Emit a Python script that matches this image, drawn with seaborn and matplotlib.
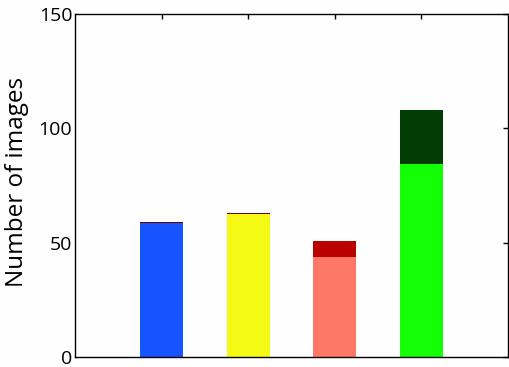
import matplotlib
matplotlib.use("Agg")
import matplotlib.pyplot as plt
import seaborn as sns
import pandas as pd

categories = ["A", "B", "C", "D"]
base_values = [58.6, 62.6, 43.7, 84.4]
top_values = [0.4, 0.4, 7.0, 23.6]
base_colors = ["#1753FF", "#F5FA14", "#FF7866", "#12FF06"]
top_colors = ["#6B0000", "#6B0000", "#BB0000", "#033D06"]
yticks = [0, 50, 100, 150]

totals = [b + t for b, t in zip(base_values, top_values)]
df = pd.DataFrame({"cat": categories, "base": base_values, "total": totals})

sns.set_style("white")
plt.rcParams["font.family"] = ["Open Sans", "DejaVu Sans"]
plt.rcParams["text.color"] = "black"
plt.rcParams["axes.labelcolor"] = "black"
plt.rcParams["ytick.color"] = "black"
plt.rcParams["xtick.color"] = "black"

fig = plt.figure(figsize=(5.09, 3.67), dpi=100, facecolor="#FDFEFD")
ax = fig.add_axes([0.1473, 0.0272, 0.8507, 0.9347])
ax.set_facecolor("#FDFEFD")

sns.barplot(data=df, x="cat", y="total", hue="cat", palette=top_colors,
            width=0.5, legend=False, ax=ax, saturation=1, linewidth=0)
sns.barplot(data=df, x="cat", y="base", hue="cat", palette=base_colors,
            width=0.5, legend=False, ax=ax, saturation=1, linewidth=0)

ax.set_xlim(-1, 4)
ax.set_ylim(0, 150)
ax.set_yticks(yticks)
ax.set_yticklabels([str(v) for v in yticks], fontsize=14)
ax.set_xticks(range(len(categories)))
ax.set_xticklabels([])
ax.set_xlabel("")
ax.set_ylabel("Number of images", fontsize=17.5)
ax.yaxis.set_label_coords(-0.107, 0.51)

ax.tick_params(axis="y", left=False, right=True, direction="in", length=3.5,
               width=1, color="black", pad=2, labelcolor="black")
ax.tick_params(axis="x", bottom=False, top=True, direction="in", length=3.5,
               width=1, color="black")
for s in ax.spines.values():
    s.set_visible(True)
    s.set_color("black")
    s.set_linewidth(1)

fig.savefig("out.png", dpi=100, facecolor=fig.get_facecolor())
